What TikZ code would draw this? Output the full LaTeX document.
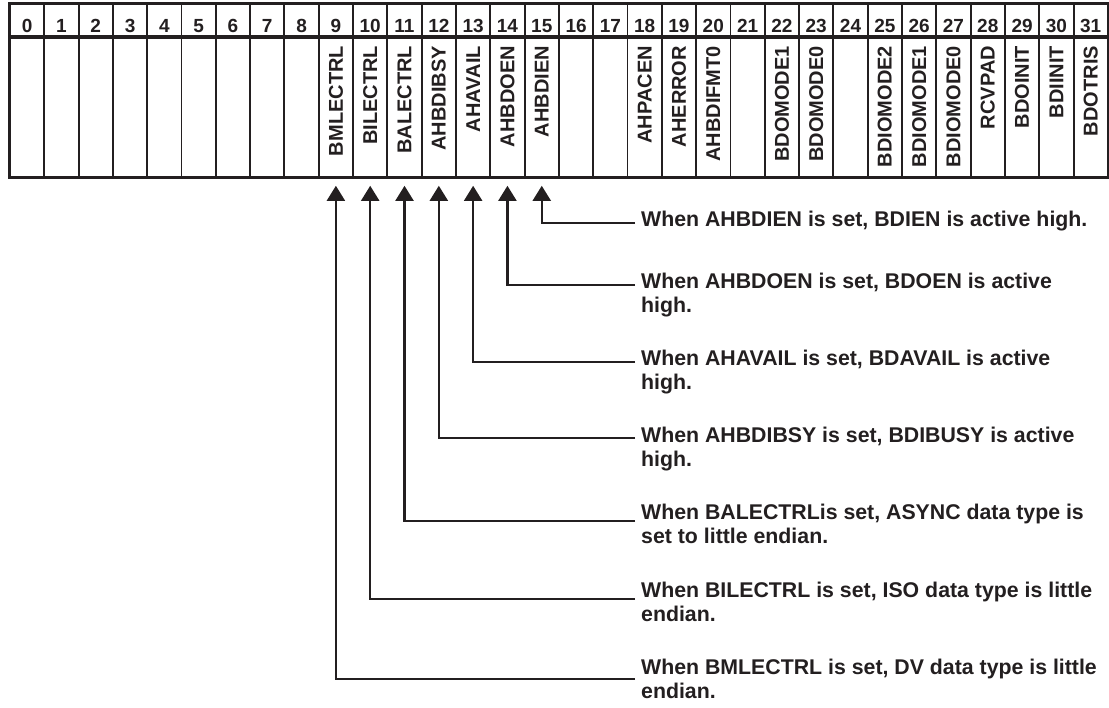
\documentclass[tikz,border=0pt]{standalone}
\usepackage{fontspec}
\setmainfont{Liberation Sans}
\usetikzlibrary{arrows.meta,positioning}
\definecolor{inkblack}{HTML}{231F20}
\tikzset{
  cell/.style={draw=inkblack, line width=1.9pt, minimum width=34.31pt, minimum height=#1, inner sep=0pt, anchor=north west},
  bitno/.style={anchor=base, inner sep=0pt, text=inkblack, font=\fontsize{19}{19}\selectfont\bfseries},
  field/.style={rotate=90, anchor=east, inner sep=0pt, text=inkblack, font=\fontsize{20}{20}\selectfont\bfseries},
  desc/.style={anchor=north west, align=left, inner sep=0pt, text=inkblack, font=\fontsize{21.3}{24}\selectfont\bfseries},
  pointer/.style={draw=inkblack, line width=2.1pt, -{Triangle[length=15pt,width=18pt]}, shorten >=8pt}
}

\begin{document}
\begin{tikzpicture}[x=1pt,y=-1pt]
  \useasboundingbox (0,0) rectangle (1109,708);
  \foreach \i/\f in {0/,1/,2/,3/,4/,5/,6/,7/,8/,9/BMLECTRL,10/BILECTRL,11/BALECTRL,12/AHBDIBSY,
      13/AHAVAIL,14/AHBDOEN,15/AHBDIEN,16/,17/,18/AHPACEN,19/AHERROR,20/AHBDIFMT0,21/,
      22/BDOMODE1,23/BDOMODE0,24/,25/BDIOMODE2,26/BDIOMODE1,27/BDIOMODE0,28/RCVPAD,
      29/BDOINIT,30/BDIINIT,31/BDOTRIS}{
    \node[cell=32pt] (n\i) at ({9+34.31*\i},3) {};
    \node[bitno] (k\i) at ([yshift=4pt]n\i.south) {\i};
    \node[cell=139pt] (c\i) at (n\i.south west) {};
    \node[field] (f\i) at ([yshift=-9pt]c\i.north) {\f};
  }
  \draw[inkblack, line width=2.6pt] (n0.north west) rectangle (c31.south east);

  \foreach \b/\ly/\ny/\t in {
      15/223/211/{When AHBDIEN is set, BDIEN is active high.},
      14/285/273/{When AHBDOEN is set, BDOEN is active\\high.},
      13/362/350/{When AHAVAIL is set, BDAVAIL is active\\high.},
      12/438/427/{When AHBDIBSY is set, BDIBUSY is active\\high.},
      11/521/504/{When BALECTRLis set, ASYNC data type is\\set to little endian.},
      10/599/582/{When BILECTRL is set, ISO data type is little\\endian.},
      9/679/659/{When BMLECTRL is set, DV data type is little\\endian.}}{
    \coordinate (j\b) at (635,\ly);
    \node[desc] (t\b) at (641,\ny) {\t};
    \draw[pointer] (j\b) -| (c\b.south);
  }
\end{tikzpicture}
\end{document}
